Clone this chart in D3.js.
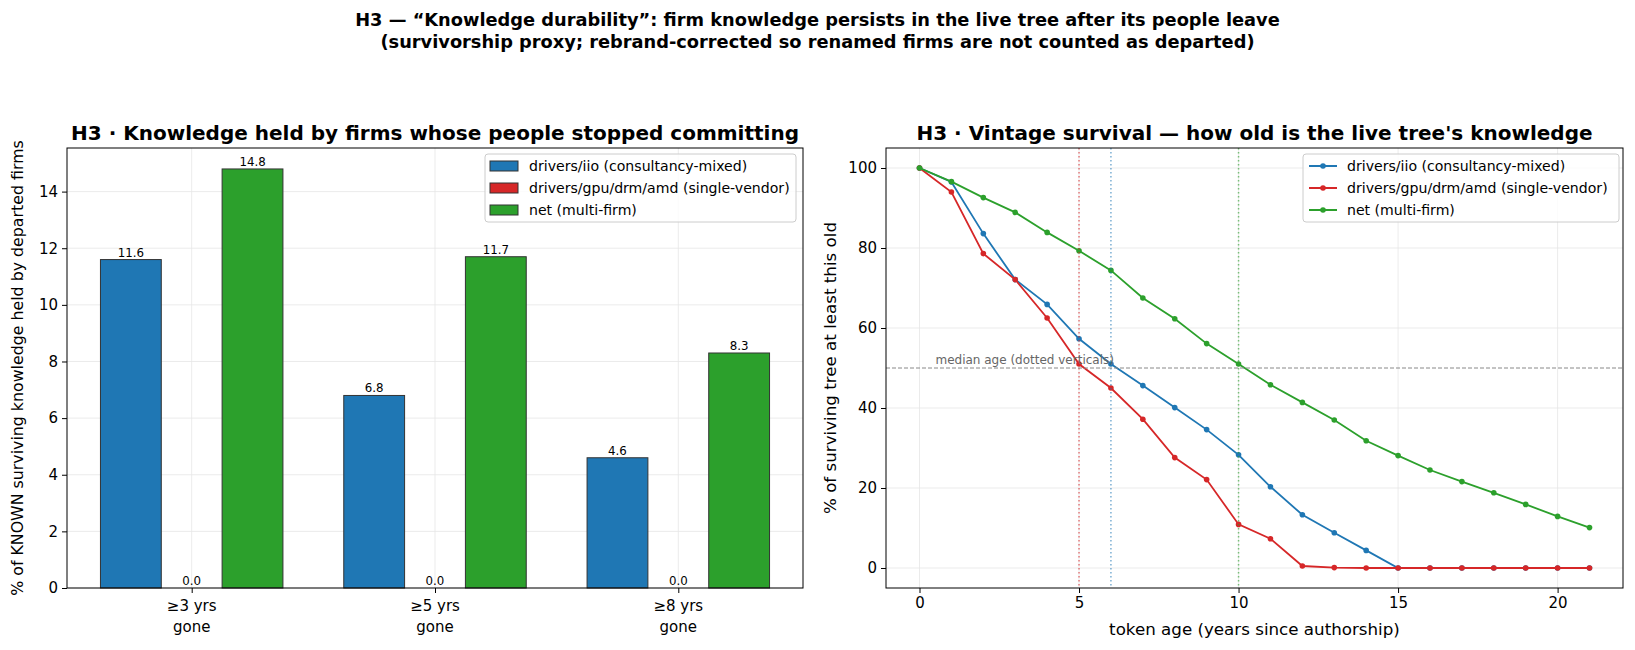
<!DOCTYPE html>
<html><head><meta charset="utf-8">
<script src="https://cdn.jsdelivr.net/npm/d3@7"></script>
<style>
body{margin:0;background:#fff;}
text{font-family:"DejaVu Sans",sans-serif;}
</style></head>
<body>
<svg id="c" width="1635" height="650"></svg>
<script>
// ---------- data ----------
const categories = ["≥3 yrs\ngone", "≥5 yrs\ngone", "≥8 yrs\ngone"];
const seriesNames = ["drivers/iio (consultancy-mixed)", "drivers/gpu/drm/amd (single-vendor)", "net (multi-firm)"];
const colors = ["#1f77b4", "#d62728", "#2ca02c"];
const iioDeparted = [11.6, 6.8, 4.6];
const amdDeparted = [0.0, 0.0, 0.0];
const netDeparted = [14.8, 11.7, 8.3];
const barTicks = [0, 2, 4, 6, 8, 10, 12, 14];

const ages = [0,1,2,3,4,5,6,7,8,9,10,11,12,13,14,15,16,17,18,19,20,21];
const iioSurv = [100,96.5,83.6,72.1,65.9,57.3,51,45.6,40.1,34.6,28.3,20.3,13.3,8.8,4.4,0,0,0,0,0,0,0];
const amdSurv = [100,94,78.6,72.1,62.5,51,45,37.2,27.6,22.1,10.9,7.3,0.5,0.1,0,0,0,0,0,0,0,0];
const netSurv = [100,96.6,92.6,88.9,83.9,79.3,74.4,67.5,62.3,56.1,51,45.8,41.4,37,31.8,28.1,24.5,21.6,18.8,15.9,12.9,10.1];
const medianAges = [6, 5, 10];
const survTicksY = [0, 20, 40, 60, 80, 100];
const survTicksX = [0, 5, 10, 15, 20];

const mainTitle = ["H3 — “Knowledge durability”: firm knowledge persists in the live tree after its people leave",
                   "(survivorship proxy; rebrand-corrected so renamed firms are not counted as departed)"];
const title1 = "H3 · Knowledge held by firms whose people stopped committing";
const title2 = "H3 · Vintage survival — how old is the live tree's knowledge";
const ylab1 = "% of KNOWN surviving knowledge held by departed firms";
const ylab2 = "% of surviving tree at least this old";
const xlab2 = "token age (years since authorship)";
const medianNote = "median age (dotted verticals)";

// ---------- layout ----------
const svg = d3.select("#c");
const TICK = 15, LAB = 16.7, GRID = "#e6e6e6";

svg.append("g").selectAll("text").data(mainTitle).join("text")
  .attr("x", 817.5).attr("y", (d,i)=>26 + i*22).attr("text-anchor","middle")
  .attr("font-weight","bold").attr("font-size",17.8).text(d=>d);

// ===== Left: bars =====
const L = {x0:67, x1:803, y0:148, y1:588};
const xb = d3.scaleLinear().domain([-0.5125, 2.5125]).range([L.x0, L.x1]);
const yb = d3.scaleLinear().domain([0, 14.8*1.05]).range([L.y1, L.y0]);
const gL = svg.append("g");
gL.selectAll(".gy").data(barTicks).join("line").attr("x1",L.x0).attr("x2",L.x1)
  .attr("y1",d=>yb(d)).attr("y2",d=>yb(d)).attr("stroke",GRID).attr("stroke-width",0.8);
gL.selectAll(".gx").data(categories).join("line").attr("y1",L.y0).attr("y2",L.y1)
  .attr("x1",(d,i)=>xb(i)).attr("x2",(d,i)=>xb(i)).attr("stroke",GRID).attr("stroke-width",0.8);
const barSeries = [iioDeparted, amdDeparted, netDeparted];
const bw = 0.25;
barSeries.forEach((vals, s) => {
  const off = (s-1)*bw;
  gL.append("g").selectAll("rect").data(vals).join("rect")
    .attr("x",(d,i)=>xb(i+off-bw/2)).attr("width",xb(bw)-xb(0))
    .attr("y",d=>yb(d)).attr("height",d=>yb(0)-yb(d))
    .attr("fill",colors[s]).attr("stroke","#333").attr("stroke-width",1);
  gL.append("g").selectAll("text").data(vals).join("text")
    .attr("x",(d,i)=>xb(i+off)).attr("y",d=>yb(d)-3).attr("text-anchor","middle")
    .attr("font-size",11.8).text(d=>d.toFixed(1));
});
const axL = d3.axisLeft(yb).tickValues(barTicks).tickSize(5).tickPadding(4).tickFormat(d3.format("d"));
const gAxL = gL.append("g").attr("transform",`translate(${L.x0},0)`).call(axL);
gAxL.select(".domain").remove();
gAxL.selectAll("text").attr("font-size",TICK).attr("font-family","DejaVu Sans");
const axLB = d3.axisBottom(xb).tickValues([0,1,2]).tickSize(5).tickFormat("");
const gAxLB = gL.append("g").attr("transform",`translate(0,${L.y1})`).call(axLB);
gAxLB.select(".domain").remove();
categories.forEach((c,i)=>{
  const t = gL.append("text").attr("text-anchor","middle").attr("font-size",TICK);
  c.split("\n").forEach((ln,j)=>t.append("tspan").attr("x",xb(i)).attr("y",611+j*21).text(ln));
});
gL.append("rect").attr("x",L.x0).attr("y",L.y0).attr("width",L.x1-L.x0).attr("height",L.y1-L.y0)
  .attr("fill","none").attr("stroke","#000").attr("stroke-width",1);
gL.append("text").attr("x",(L.x0+L.x1)/2).attr("y",140).attr("text-anchor","middle")
  .attr("font-weight","bold").attr("font-size",20).text(title1);
gL.append("text").attr("transform",`translate(23,${(L.y0+L.y1)/2}) rotate(-90)`)
  .attr("text-anchor","middle").attr("font-size",15.8).text(ylab1);
function legend(g, x, y, w, kind){
  g.append("rect").attr("x",x).attr("y",y).attr("width",w).attr("height",68).attr("rx",3)
    .attr("fill","#fff").attr("fill-opacity",0.8).attr("stroke","#ccc");
  seriesNames.forEach((n,i)=>{
    const cy = y+12+i*22;
    if(kind==="bar"){
      g.append("rect").attr("x",x+5).attr("y",cy-5).attr("width",28).attr("height",10)
        .attr("fill",colors[i]).attr("stroke","#333").attr("stroke-width",1);
    } else {
      g.append("line").attr("x1",x+6).attr("x2",x+34).attr("y1",cy).attr("y2",cy)
        .attr("stroke",colors[i]).attr("stroke-width",2);
      g.append("circle").attr("cx",x+20).attr("cy",cy).attr("r",2.8).attr("fill",colors[i]);
    }
    g.append("text").attr("x",x+44).attr("y",cy+5).attr("font-size",14.1).text(n);
  });
}
legend(gL, 485, 154, 311, "bar");

// ===== Right: survival lines =====
const R = {x0:886, x1:1623, y0:148, y1:588};
const xs = d3.scaleLinear().domain([-1.05, 22.05]).range([R.x0, R.x1]);
const ys = d3.scaleLinear().domain([-5, 105]).range([R.y1, R.y0]);
const gR = svg.append("g");
gR.selectAll(".gy").data(survTicksY).join("line").attr("x1",R.x0).attr("x2",R.x1)
  .attr("y1",d=>ys(d)).attr("y2",d=>ys(d)).attr("stroke",GRID).attr("stroke-width",0.8);
gR.selectAll(".gx").data(survTicksX).join("line").attr("y1",R.y0).attr("y2",R.y1)
  .attr("x1",d=>xs(d)).attr("x2",d=>xs(d)).attr("stroke",GRID).attr("stroke-width",0.8);
const survSeries = [iioSurv, amdSurv, netSurv];
const line = d3.line().x((d,i)=>xs(ages[i])).y(d=>ys(d));
survSeries.forEach((vals,s)=>{
  gR.append("path").datum(vals).attr("d",line).attr("fill","none")
    .attr("stroke",colors[s]).attr("stroke-width",1.8);
  gR.append("g").selectAll("circle").data(vals).join("circle")
    .attr("cx",(d,i)=>xs(ages[i])).attr("cy",d=>ys(d)).attr("r",2.8).attr("fill",colors[s]);
});
medianAges.forEach((m,s)=>{
  gR.append("line").attr("x1",xs(m)).attr("x2",xs(m)).attr("y1",R.y0).attr("y2",R.y1)
    .attr("stroke",colors[s]).attr("stroke-opacity",0.6).attr("stroke-width",1.5)
    .attr("stroke-dasharray","1.5,2.5");
});
gR.append("line").attr("x1",R.x0).attr("x2",R.x1).attr("y1",ys(50)).attr("y2",ys(50))
  .attr("stroke","#888").attr("stroke-width",1).attr("stroke-dasharray","4,2");
gR.append("text").attr("x",xs(0.5)).attr("y",ys(51)).attr("font-size",12)
  .attr("fill","#666").text(medianNote);
const axR = d3.axisLeft(ys).tickValues(survTicksY).tickSize(5).tickPadding(4);
const gAxR = gR.append("g").attr("transform",`translate(${R.x0},0)`).call(axR);
gAxR.select(".domain").remove();
gAxR.selectAll("text").attr("font-size",TICK).attr("font-family","DejaVu Sans");
const axRB = d3.axisBottom(xs).tickValues(survTicksX).tickSize(5).tickPadding(4);
const gAxRB = gR.append("g").attr("transform",`translate(0,${R.y1})`).call(axRB);
gAxRB.select(".domain").remove();
gAxRB.selectAll("text").attr("font-size",TICK).attr("font-family","DejaVu Sans");
gR.append("rect").attr("x",R.x0).attr("y",R.y0).attr("width",R.x1-R.x0).attr("height",R.y1-R.y0)
  .attr("fill","none").attr("stroke","#000").attr("stroke-width",1);
gR.append("text").attr("x",(R.x0+R.x1)/2).attr("y",140).attr("text-anchor","middle")
  .attr("font-weight","bold").attr("font-size",20).text(title2);
gR.append("text").attr("transform",`translate(836,${(R.y0+R.y1)/2}) rotate(-90)`)
  .attr("text-anchor","middle").attr("font-size",LAB).text(ylab2);
gR.append("text").attr("x",(R.x0+R.x1)/2).attr("y",635).attr("text-anchor","middle")
  .attr("font-size",LAB).text(xlab2);
legend(gR, 1303, 154, 316, "line");
</script>
</body></html>
